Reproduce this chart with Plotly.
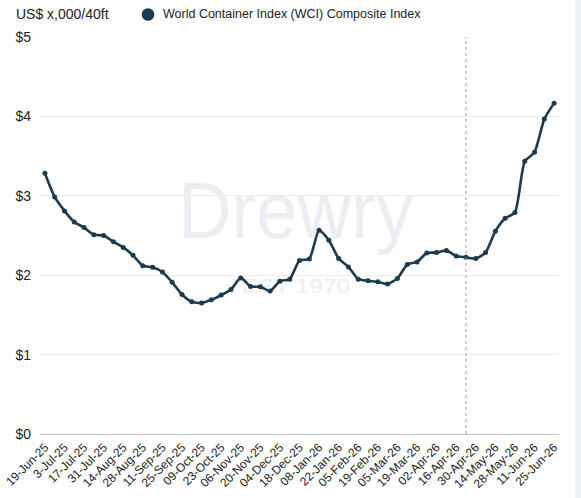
import base64
import plotly.graph_objects as go

# ---- data ----
weeks = [
    "19-Jun-25", "26-Jun-25", "3-Jul-25", "10-Jul-25", "17-Jul-25", "24-Jul-25",
    "31-Jul-25", "07-Aug-25", "14-Aug-25", "21-Aug-25", "28-Aug-25", "04-Sep-25",
    "11-Sep-25", "18-Sep-25", "25-Sep-25", "02-Oct-25", "09-Oct-25", "16-Oct-25",
    "23-Oct-25", "30-Oct-25", "06-Nov-25", "13-Nov-25", "20-Nov-25", "27-Nov-25",
    "04-Dec-25", "11-Dec-25", "18-Dec-25", "25-Dec-25", "08-Jan-26", "15-Jan-26",
    "22-Jan-26", "29-Jan-26", "05-Feb-26", "12-Feb-26", "19-Feb-26", "26-Feb-26",
    "05-Mar-26", "12-Mar-26", "19-Mar-26", "26-Mar-26", "02-Apr-26", "09-Apr-26",
    "16-Apr-26", "23-Apr-26", "30-Apr-26", "07-May-26", "14-May-26", "21-May-26",
    "28-May-26", "04-Jun-26", "11-Jun-26", "18-Jun-26", "25-Jun-26",
]
wci = [
    3.285, 2.985, 2.81, 2.67, 2.60, 2.51, 2.50, 2.42, 2.35, 2.25,
    2.12, 2.10, 2.04, 1.91, 1.757, 1.665, 1.65, 1.69, 1.75, 1.82,
    1.966, 1.858, 1.853, 1.80, 1.925, 1.95, 2.185, 2.205, 2.566, 2.44,
    2.21, 2.104, 1.95, 1.93, 1.916, 1.89, 1.96, 2.134, 2.167, 2.28,
    2.285, 2.31, 2.243, 2.226, 2.21, 2.285, 2.553, 2.717, 2.79, 3.434,
    3.55, 3.966, 4.167,
]
tick_vals = weeks[::2]
tick_labels = [
    "19-Jun-25", "3-Jul-25", "17-Jul-25", "31-Jul-25", "14-Aug-25", "28-Aug-25",
    "11-Sep-25", "25-Sep-25", "09-Oct-25", "23-Oct-25", "06-Nov-25", "20-Nov-25",
    "04-Dec-25", "18-Dec-25", "08-Jan-26", "22-Jan-26", "05-Feb-26", "19-Feb-26",
    "05-Mar-26", "19-Mar-26", "02-Apr-26", "16-Apr-26", "30-Apr-26", "14-May-26",
    "28-May-26", "11-Jun-26", "25-Jun-26",
]
y_ticks = [0, 1, 2, 3, 4, 5]
y_tick_labels = ["$0", "$1", "$2", "$3", "$4", "$5"]
marker_week = "23-Apr-26"
series_name = "World Container Index (WCI) Composite Index"
unit_label = "US$ x,000/40ft"

LINE = "#1c3a50"
FONT = "Liberation Sans, Arial, sans-serif"

# plot area (page pixels): x 40..559, y 37..434
W, H = 581, 498
PX0, PX1, PY0, PY1 = 40, 559, 37, 434
PW, PH = PX1 - PX0, PY1 - PY0
def px(x):
    return (x - PX0) / PW
def py(y):
    return (PY1 - y) / PH

fig = go.Figure()
fig.add_trace(go.Scatter(
    x=weeks, y=wci, mode="lines+markers", name=series_name,
    line=dict(color=LINE, width=2.6, shape="spline", smoothing=0.6),
    marker=dict(color=LINE, size=5),
    showlegend=False,
))

# dotted vertical reference line
fig.add_shape(type="line", xref="x", yref="paper",
              x0=weeks.index(marker_week), x1=weeks.index(marker_week), y0=0, y1=1,
              line=dict(color="#999999", width=1, dash="dot"))

# legend-like header
fig.add_shape(type="circle", xref="paper", yref="paper",
              xsizemode="pixel", ysizemode="pixel",
              xanchor=px(148), yanchor=py(14.5),
              x0=-6.3, x1=6.3, y0=-6.3, y1=6.3,
              fillcolor=LINE, line=dict(width=0))
fig.add_annotation(text=series_name, xref="paper", yref="paper",
                   x=px(161), y=py(13.5),
                   xanchor="left", yanchor="middle", showarrow=False,
                   font=dict(family=FONT, size=12.5, color="#222"))
fig.add_annotation(text=unit_label, xref="paper", yref="paper",
                   x=px(14), y=py(13.5),
                   xanchor="left", yanchor="middle", showarrow=False,
                   font=dict(family=FONT, size=14, color="#222"))

# light strip on the right
fig.add_shape(type="rect", xref="paper", yref="paper",
              x0=px(575), x1=px(600), y0=py(520), y1=py(-20),
              fillcolor="#eef2f6", line=dict(width=0), layer="below")

# watermark
svg = (
    '<svg xmlns="http://www.w3.org/2000/svg" width="250" height="130" viewBox="0 0 250 130">'
    '<text x="8" y="68" font-family="Liberation Sans, Arial, sans-serif" font-size="80" '
    'fill="#ebeff3" textLength="235" lengthAdjust="spacingAndGlyphs">Drewry</text>'
    '<text x="72" y="123" font-family="Liberation Sans, Arial, sans-serif" font-size="21" '
    'fill="#eceff2" textLength="108" lengthAdjust="spacingAndGlyphs">EST 1970</text>'
    '</svg>'
)
src = "data:image/svg+xml;base64," + base64.b64encode(svg.encode()).decode()
fig.add_layout_image(source=src, xref="paper", yref="paper",
                     x=px(170), y=py(170),
                     sizex=250 / PW, sizey=130 / PH,
                     xanchor="left", yanchor="top", sizing="stretch", layer="below")

fig.update_layout(
    width=W, height=H,
    margin=dict(l=PX0, r=W - PX1, t=PY0, b=H - PY1, autoexpand=False),
    paper_bgcolor="white", plot_bgcolor="rgba(0,0,0,0)",
    font=dict(family=FONT, color="#222"),
    showlegend=False,
)
fig.update_xaxes(
    type="category", range=[-0.5, len(weeks) - 0.5],
    tickmode="array", tickvals=tick_vals, ticktext=tick_labels,
    tickangle=-45, tickfont=dict(size=12, color="#222"),
    showgrid=False, zeroline=False, showline=False, ticks="", automargin=False,
    ticklabelstandoff=3,
)
fig.update_yaxes(
    range=[0, 5], tickmode="array", tickvals=y_ticks, ticktext=y_tick_labels,
    tickfont=dict(size=14, color="#222"), showgrid=True, gridcolor="#ececec",
    gridwidth=1, zeroline=True, zerolinecolor="#c4c4c4", zerolinewidth=1,
    showline=False, ticks="", ticklabelstandoff=8, automargin=False,
)

fig.write_html("out.html",
               config={"displayModeBar": False},
               post_script="document.body.style.margin='0';document.body.style.overflow='hidden';")
